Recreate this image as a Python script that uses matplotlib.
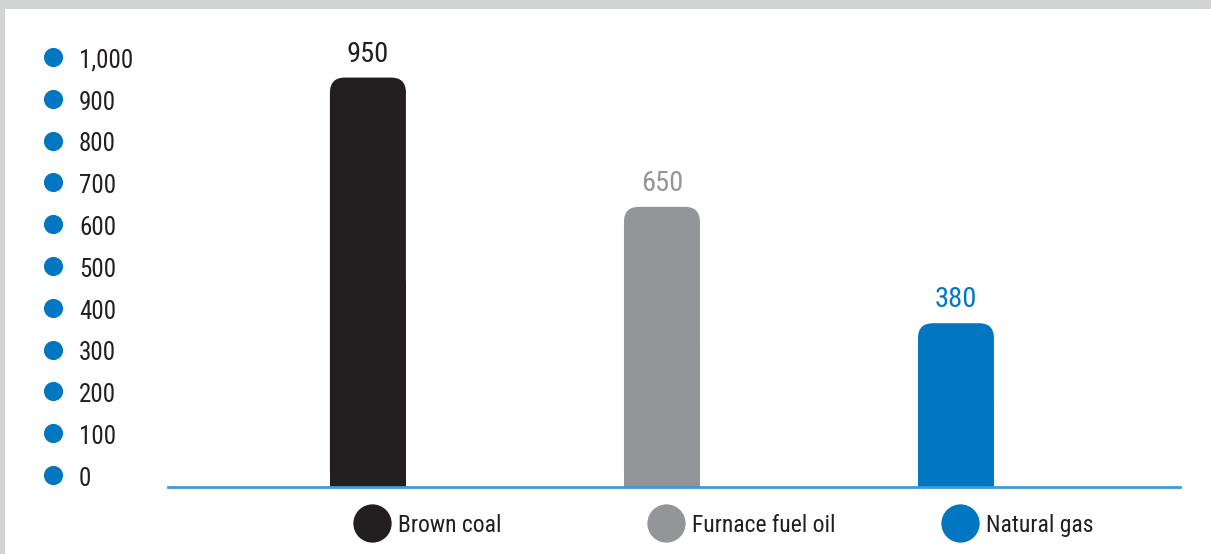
import matplotlib
matplotlib.use("Agg")
import matplotlib.pyplot as plt
from matplotlib.patches import FancyBboxPatch, Rectangle

# Emission figures per fuel
fuels = ["Brown coal", "Furnace fuel oil", "Natural gas"]
values = [950, 650, 380]
value_labels = ["950", "650", "380"]
bar_colors = ["#231f20", "#939598", "#0077c0"]
scale_values = [1000, 900, 800, 700, 600, 500, 400, 300, 200, 100, 0]
scale_labels = ["1,000", "900", "800", "700", "600", "500", "400", "300", "200", "100", "0"]

FONT = ["Roboto Condensed", "DejaVu Sans"]
BLUE = "#0077c0"
FRAME = "#d1d3d4"

W, H = 1211, 554
TOP, BASE = 56, 487  # pixel rows of 1000 and 0
fig = plt.figure(figsize=(W / 100, H / 100), dpi=100)
fig.patch.set_facecolor("white")

# gray frame on top and left
fig.add_artist(Rectangle((0, 1 - 9 / H), 1, 9 / H, transform=fig.transFigure,
                         color=FRAME, lw=0, zorder=0))
fig.add_artist(Rectangle((0, 0), 5 / W, 1, transform=fig.transFigure,
                         color=FRAME, lw=0, zorder=0))

ax = fig.add_axes([168 / W, (H - BASE) / H, (1180 - 168) / W, (BASE - TOP) / H])
ax.set_xlim(-0.680, 2.762)
ax.set_ylim(0, 1000)
for s in ax.spines.values():
    s.set_visible(False)
ax.set_xticks([])
ax.set_yticks([])
ax.patch.set_alpha(0)

# data units per pixel, used for the rounded tops
px_x = (ax.get_xlim()[1] - ax.get_xlim()[0]) / (1180 - 168)
px_y = (ax.get_ylim()[1] - ax.get_ylim()[0]) / (BASE - TOP)
aspect = px_y / px_x

def py(row):
    # pixel row -> data y
    return (BASE - row) * px_y

bar_w = 0.2585
radius = 15 * px_x
for i, (v, c) in enumerate(zip(values, bar_colors)):
    top = FancyBboxPatch((i - bar_w / 2, 0), bar_w, v,
                         boxstyle=f"round,pad=0,rounding_size={radius}",
                         mutation_aspect=aspect, fc=c, ec="none", zorder=2)
    ax.add_patch(top)
    # square off the lower corners
    ax.bar(i, v / 2, width=bar_w, color=c, zorder=2)
    ax.annotate(value_labels[i], (i, v), xytext=(0, 11.5), textcoords="offset points",
                ha="center", va="baseline", fontsize=20.5, color=c, family=FONT)

# baseline
ax.plot([-0.680, 2.762], [0, 0], color="#3d9bd9", lw=2, clip_on=False, zorder=3)

# scale column with dots on the left (rows 57 .. 475)
for v, lab in zip(scale_values, scale_labels):
    y = py(475 - 0.418 * v)
    ax.scatter([-1.071], [y], s=190, color=BLUE, clip_on=False, zorder=3, lw=0)
    ax.annotate(lab, (-0.983, y), xytext=(0, -7.8), textcoords="offset points",
                ha="left", va="baseline", fontsize=18, color="#231f20",
                family=FONT, annotation_clip=False)

# legend below the bars
leg_y = py(523)
for i, (name, c) in enumerate(zip(fuels, bar_colors)):
    ax.scatter([i + 0.013], [leg_y], s=760, color=c, clip_on=False, zorder=3, lw=0)
    ax.annotate(name, (i + 0.102, leg_y), xytext=(0, -6.5), textcoords="offset points",
                ha="left", va="baseline", fontsize=17, color="#231f20",
                family=FONT, annotation_clip=False)

fig.savefig("out.png", dpi=100)
